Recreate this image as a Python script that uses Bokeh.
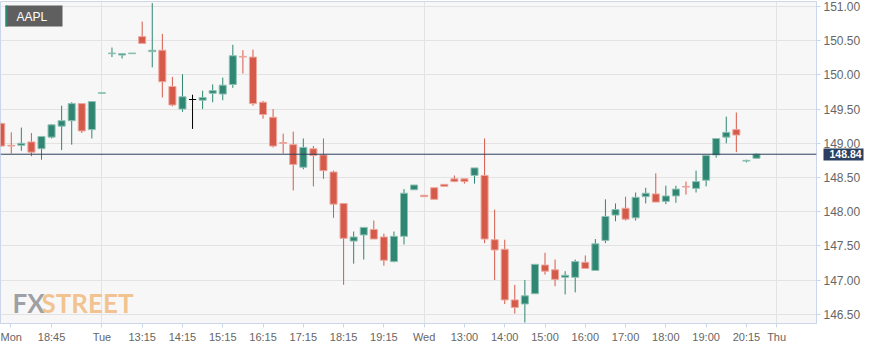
from bokeh.plotting import figure
from bokeh.models import (Range1d, FixedTicker, NumeralTickFormatter, Span, Label,
                          ColumnDataSource, BoxAnnotation, LinearAxis)
from bokeh.embed import file_html
from bokeh.resources import INLINE

# ---------------- data (15-minute AAPL candles) ----------------
opens = [149.29, 148.97, 148.97, 149.02, 148.92, 149.09, 149.25, 149.33, 149.58, 149.20,
         149.73, 150.31, 150.29, 150.31, 150.56, 150.34, 150.36, 149.83, 149.50, 149.64,
         149.63, 149.73, 149.72, 149.86, 150.27, 150.26, 149.60, 149.38, 149.01, 148.98,
         148.65, 148.92, 148.83, 148.58, 148.12, 147.57, 147.66, 147.74, 147.63, 147.27,
         147.64, 148.32, 148.24, 148.35, 148.40, 148.48, 148.48, 148.53, 148.53, 147.59,
         147.45, 146.71, 146.65, 146.80, 147.22, 147.15, 147.04, 147.04, 147.26, 147.14,
         147.58, 147.95, 148.05, 147.91, 148.22, 148.26, 148.15, 148.23, 148.37, 148.34,
         148.46, 148.83, 149.09, 149.20, 148.74, 148.78]
highs = [149.30, 149.16, 149.23, 149.15, 149.10, 149.28, 149.55, 149.60, 149.58, 149.61,
         149.74, 150.40, 150.31, 150.32, 150.78, 151.05, 150.60, 149.97, 150.01, 149.71,
         149.77, 149.86, 149.96, 150.44, 150.36, 150.37, 149.62, 149.50, 149.14, 149.17,
         149.07, 148.96, 149.07, 148.60, 148.12, 147.71, 147.77, 147.87, 147.68, 147.71,
         148.33, 148.39, 148.24, 148.35, 148.40, 148.53, 148.48, 148.64, 149.07, 148.03,
         147.59, 146.93, 147.00, 147.23, 147.40, 147.30, 147.13, 147.30, 147.36, 147.60,
         148.18, 148.12, 148.22, 148.28, 148.35, 148.56, 148.38, 148.38, 148.44, 148.60,
         148.82, 149.07, 149.39, 149.45, 148.76, 148.85]
lows = [148.95, 148.85, 148.89, 148.81, 148.76, 149.07, 148.90, 148.98, 149.15, 149.07,
        149.73, 150.26, 150.24, 150.31, 150.46, 150.11, 149.67, 149.54, 149.46, 149.21,
        149.50, 149.60, 149.63, 149.81, 150.02, 149.55, 149.36, 148.94, 148.85, 148.31,
        148.62, 148.37, 148.48, 147.91, 146.93, 147.24, 147.30, 147.60, 147.21, 147.26,
        147.52, 148.32, 148.22, 148.18, 148.37, 148.43, 148.41, 148.41, 147.54, 147.00,
        146.65, 146.51, 146.38, 146.80, 147.08, 146.91, 146.79, 146.82, 147.17, 147.14,
        147.54, 147.86, 147.87, 147.87, 148.12, 148.14, 148.11, 148.13, 148.25, 148.28,
        148.37, 148.79, 149.00, 148.87, 148.72, 148.78]
closes = [148.96, 148.96, 149.00, 148.87, 149.10, 149.27, 149.33, 149.58, 149.18, 149.61,
          149.74, 150.32, 150.31, 150.32, 150.46, 150.36, 149.90, 149.56, 149.68, 149.64,
          149.67, 149.77, 149.85, 150.28, 150.26, 149.58, 149.42, 148.96, 149.00, 148.69,
          148.94, 148.82, 148.60, 148.11, 147.61, 147.63, 147.77, 147.60, 147.29, 147.64,
          148.27, 148.39, 148.22, 148.18, 148.37, 148.44, 148.44, 148.64, 147.60, 147.44,
          146.71, 146.60, 146.77, 147.23, 147.13, 147.01, 147.07, 147.27, 147.17, 147.53,
          147.93, 148.03, 147.89, 148.21, 148.27, 148.14, 148.23, 148.33, 148.36, 148.44,
          148.82, 149.07, 149.16, 149.12, 148.75, 148.84]

tick_pos = [0.95, 5, 10, 14, 18, 22, 26, 30, 34, 38, 42, 46, 50, 54, 58, 62, 66, 70, 74, 77]
tick_labels = ["Mon", "18:45", "Tue", "13:15", "14:15", "15:15", "16:15", "17:15", "18:15",
               "19:15", "Wed", "13:00", "14:00", "15:00", "16:00", "17:00", "18:00",
               "19:00", "20:15", "Thu"]
day_lines = [10, 42, 77]
y_ticks = [146.5, 147.0, 147.5, 148.0, 148.5, 149.0, 149.5, 150.0, 150.5, 151.0]
last_price = 148.84
symbol = "AAPL"

# ---------------- styling ----------------
UP, DOWN, FLAT = "#2f8672", "#d65a4a", "#000000"
UP_LINE, DOWN_LINE = "#8fc2b5", "#eca79d"
NAVY = "#2b4061"

X0, X1 = -0.07, 80.96
Y0, Y1 = 146.365, 151.073
W, H = 887, 349
FL, FR, FT, FB = 0, 816, 1, 323


def px_x(px):
    return X0 + (px - FL) / (FR - FL) * (X1 - X0)


def px_y(py):
    return Y1 - (py - FT) / (FB - FT) * (Y1 - Y0)


idx = list(range(len(opens)))
fill, line = [], []
for o, c in zip(opens, closes):
    if c > o:
        fill.append(UP); line.append(UP_LINE)
    elif c < o:
        fill.append(DOWN); line.append(DOWN_LINE)
    else:
        fill.append(FLAT); line.append(FLAT)

src = ColumnDataSource(dict(
    x=idx, o=opens, h=highs, l=lows, c=closes,
    top=[max(o, c) for o, c in zip(opens, closes)],
    bot=[min(o, c) for o, c in zip(opens, closes)],
    fill=fill, line=line))

p = figure(width=W, height=H, x_range=Range1d(X0, X1), y_range=Range1d(Y0, Y1),
           output_backend="svg", toolbar_location=None, y_axis_location="right")
p.min_border_left = FL
p.min_border_right = W - FR
p.min_border_top = FT
p.min_border_bottom = H - FB
p.background_fill_color = "#f7f7f7"
p.border_fill_color = "white"
p.outline_line_color = "#ccd6eb"

# grids
p.ygrid.ticker = FixedTicker(ticks=y_ticks)
p.ygrid.grid_line_color = "#e3e3e3"
p.xgrid.ticker = FixedTicker(ticks=day_lines)
p.xgrid.grid_line_color = "#e3e3e3"

# y axis (right)
ya = p.yaxis[0]
ya.ticker = FixedTicker(ticks=y_ticks)
ya.formatter = NumeralTickFormatter(format="0.00")
ya.major_label_text_font = "Liberation Sans"
ya.major_label_text_font_size = "12px"
ya.major_label_text_color = "#666666"
ya.major_tick_in = 0
ya.major_tick_out = 4
ya.major_tick_line_color = "#ccd6eb"
ya.minor_tick_line_color = None
ya.axis_line_color = "#ccd6eb"
ya.major_label_standoff = 3

# last-price badge: a second right axis, stacked after the first one; its single
# tick, drawn inwards and thick, makes the navy box behind the label
badge = LinearAxis(ticker=FixedTicker(ticks=[last_price]),
                   formatter=NumeralTickFormatter(format="0.00"))
badge.axis_line_color = None
badge.minor_tick_line_color = None
badge.major_tick_out = 0
badge.major_tick_in = 40
badge.major_tick_line_color = NAVY
badge.major_tick_line_width = 12
badge.major_tick_line_cap = "butt"
badge.major_label_standoff = -34
badge.major_label_text_font = "Liberation Sans"
badge.major_label_text_font_style = "bold"
badge.major_label_text_font_size = "10.5px"
badge.major_label_text_color = "white"
p.add_layout(badge, "right")

# x axis
xa = p.xaxis[0]
xa.ticker = FixedTicker(ticks=tick_pos)
xa.major_label_overrides = {t: lab for t, lab in zip(tick_pos, tick_labels)}
xa.major_label_text_font = "Liberation Sans"
xa.major_label_text_font_size = "11px"
xa.major_label_text_color = "#666666"
xa.major_tick_in = 0
xa.major_tick_out = 4
xa.major_tick_line_color = "#ccd6eb"
xa.minor_tick_line_color = None
xa.axis_line_color = "#ccd6eb"
xa.major_label_standoff = 3

# watermark
p.add_layout(Label(x=px_x(12), y=px_y(302), text="FX", text_font="Lato",
                   text_font_style="bold", text_font_size="26px", text_color="#8f9196",
                   text_alpha=0.85, text_baseline="alphabetic"))
p.add_layout(Label(x=px_x(41), y=px_y(302), text="STREET", text_font="Lato",
                   text_font_style="bold", text_font_size="26px", text_color="#f2c08a",
                   text_alpha=0.95, text_baseline="alphabetic"))

# candles
p.segment(x0="x", y0="l", x1="x", y1="h", line_color="fill", line_width=1, source=src)
p.vbar(x="x", width=0.7, top="top", bottom="bot", fill_color="fill", line_color="line",
       line_width=1, source=src)

# last price line
p.add_layout(Span(location=last_price, dimension="width", line_color="#2b3f5c", line_width=1))

# symbol badge
p.add_layout(BoxAnnotation(left=px_x(5), right=px_x(62), top=px_y(5), bottom=px_y(26),
                           fill_color="#5f5f5f", fill_alpha=1, line_color=None))
p.add_layout(BoxAnnotation(left=px_x(5), right=px_x(7), top=px_y(5), bottom=px_y(26),
                           fill_color="#2f8672", fill_alpha=1, line_color=None))
p.add_layout(Label(x=px_x(16), y=px_y(16), text=symbol, text_font="Liberation Sans",
                   text_font_size="12px", text_color="white", text_baseline="middle"))

open("out.html", "w").write(file_html(p, INLINE))
